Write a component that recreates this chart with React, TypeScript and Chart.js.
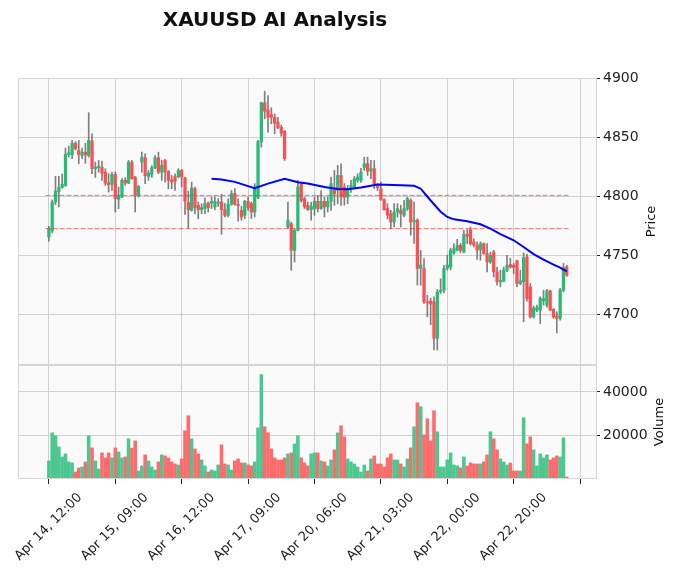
import React, { useEffect, useRef } from 'react';
import { Chart, registerables } from 'chart.js';

Chart.register(...registerables);

const chartTitle = 'XAUUSD AI Analysis';

const opens = [
  4765.5, 4770.6, 4795.2, 4804.0, 4807.5, 4809.3, 4835.5, 4835.3, 4845.2, 4839.0,
  4834.7, 4837.5, 4834.7, 4846.9, 4823.5, 4824.3, 4824.8, 4820.6, 4811.5, 4810.2,
  4818.6, 4797.5, 4799.4, 4813.6, 4811.3, 4829.1, 4816.4, 4800.8, 4829.1, 4832.8,
  4817.0, 4818.6, 4824.0, 4832.8, 4820.6, 4830.5, 4821.0, 4814.0, 4816.9, 4816.5,
  4822.0, 4815.8, 4794.7, 4788.1, 4806.5, 4792.4, 4788.7, 4789.6, 4794.3, 4794.3,
  4791.0, 4794.0, 4795.2, 4788.7, 4783.9, 4793.2, 4802.3, 4793.2, 4788.1, 4783.9,
  4795.8, 4793.8, 4786.7, 4799.0, 4846.6, 4879.4, 4873.5, 4869.5, 4867.2, 4863.0,
  4858.7, 4855.1, 4774.0, 4776.9, 4754.2, 4771.2, 4810.8, 4798.0, 4792.4, 4788.7,
  4789.6, 4795.8, 4789.6, 4795.8, 4791.0, 4795.8, 4806.5, 4805.0, 4817.8, 4807.9,
  4799.4, 4806.5, 4807.9, 4813.6, 4813.6, 4824.6, 4827.7, 4821.4, 4823.5, 4808.5,
  4806.5, 4797.2, 4789.6, 4785.3, 4778.2, 4786.7, 4788.1, 4783.9, 4789.6, 4796.6,
  4778.2, 4779.7, 4738.9, 4738.7, 4710.4, 4711.0, 4710.4, 4679.4, 4719.0, 4720.3,
  4738.9, 4740.0, 4752.0, 4754.2, 4758.5, 4752.8, 4767.8, 4771.8, 4761.3, 4758.5,
  4755.0, 4759.9, 4751.4, 4744.3, 4752.8, 4735.9, 4727.4, 4728.0, 4737.3, 4742.1,
  4741.5, 4745.2, 4726.0, 4727.4, 4748.5, 4723.2, 4697.7, 4703.4, 4703.4, 4711.3,
  4707.6, 4719.8, 4704.0, 4698.3, 4696.4, 4720.3, 4740.0,
];

const highs = [
  4774.5, 4797.0, 4817.0, 4817.0, 4819.0, 4841.0, 4842.6, 4847.5, 4846.5, 4847.5,
  4841.0, 4845.0, 4871.0, 4853.1, 4829.0, 4830.5, 4830.0, 4823.5, 4819.2, 4820.6,
  4820.6, 4807.9, 4815.0, 4815.8, 4830.5, 4830.5, 4816.9, 4809.3, 4837.5, 4836.2,
  4822.0, 4826.0, 4834.7, 4837.5, 4830.5, 4831.5, 4822.0, 4817.8, 4819.2, 4823.5,
  4823.0, 4816.4, 4804.5, 4812.1, 4807.9, 4795.2, 4793.8, 4798.6, 4795.2, 4799.4,
  4799.5, 4798.0, 4801.7, 4793.8, 4798.0, 4805.0, 4806.5, 4798.0, 4791.5, 4796.6,
  4799.4, 4795.2, 4810.8, 4847.5, 4880.0, 4889.2, 4885.6, 4875.2, 4870.0, 4867.2,
  4860.5, 4856.0, 4795.2, 4778.2, 4772.6, 4813.6, 4812.1, 4799.4, 4795.2, 4795.2,
  4799.4, 4800.8, 4805.0, 4799.4, 4799.4, 4816.4, 4822.0, 4826.3, 4827.7, 4810.8,
  4809.3, 4813.6, 4816.9, 4819.2, 4823.7, 4833.3, 4833.3, 4830.5, 4830.5, 4810.8,
  4812.1, 4798.0, 4793.8, 4788.1, 4793.8, 4793.8, 4792.4, 4796.6, 4799.4, 4798.0,
  4795.2, 4781.0, 4754.0, 4747.2, 4716.0, 4713.6, 4714.7, 4721.0, 4730.0, 4741.5,
  4750.0, 4756.0, 4760.0, 4763.5, 4760.0, 4771.2, 4771.8, 4774.0, 4764.0, 4761.3,
  4761.3, 4760.5, 4760.0, 4752.8, 4754.2, 4740.0, 4737.3, 4740.0, 4750.0, 4747.5,
  4743.0, 4745.8, 4737.3, 4752.0, 4751.0, 4726.0, 4706.8, 4707.6, 4714.7, 4720.3,
  4721.0, 4720.3, 4704.8, 4702.0, 4721.8, 4743.0, 4741.5,
];

const lows = [
  4762.0, 4769.0, 4793.0, 4791.0, 4807.0, 4808.5, 4833.3, 4832.0, 4839.5, 4827.7,
  4832.0, 4828.0, 4833.3, 4819.2, 4816.0, 4820.6, 4813.6, 4809.3, 4803.6, 4805.0,
  4786.7, 4789.6, 4798.9, 4809.3, 4810.8, 4814.4, 4786.7, 4799.4, 4820.6, 4810.8,
  4813.6, 4816.0, 4823.5, 4819.2, 4813.6, 4812.1, 4806.5, 4806.5, 4805.0, 4815.8,
  4807.9, 4784.7, 4772.9, 4787.5, 4785.3, 4781.0, 4785.3, 4785.3, 4786.7, 4789.6,
  4788.5, 4791.5, 4767.8, 4782.5, 4782.5, 4792.4, 4792.4, 4779.0, 4779.7, 4781.0,
  4788.1, 4781.0, 4782.5, 4798.0, 4841.8, 4865.8, 4854.5, 4861.6, 4853.1, 4857.4,
  4851.0, 4830.5, 4772.6, 4737.3, 4744.3, 4770.6, 4795.2, 4789.6, 4788.1, 4779.7,
  4783.9, 4786.7, 4789.0, 4782.5, 4786.7, 4788.1, 4792.4, 4793.8, 4792.4, 4792.4,
  4793.8, 4803.4, 4807.4, 4811.9, 4811.9, 4822.0, 4817.8, 4815.0, 4806.5, 4805.0,
  4796.6, 4788.1, 4781.0, 4772.6, 4774.0, 4782.5, 4774.0, 4782.5, 4788.0, 4767.0,
  4760.0, 4724.6, 4724.6, 4709.0, 4697.7, 4691.0, 4669.5, 4669.5, 4717.5, 4718.0,
  4737.5, 4737.5, 4750.8, 4753.5, 4752.0, 4752.0, 4760.0, 4758.5, 4757.0, 4746.4,
  4745.8, 4750.8, 4735.9, 4743.0, 4731.6, 4724.6, 4723.2, 4727.4, 4736.0, 4739.0,
  4734.5, 4723.2, 4725.0, 4693.5, 4711.0, 4696.6, 4696.6, 4702.0, 4692.0, 4707.6,
  4706.0, 4702.8, 4696.4, 4684.0, 4694.9, 4719.0, 4732.0,
];

const closes = [
  4772.6, 4795.2, 4804.5, 4807.5, 4810.2, 4835.6, 4837.0, 4845.0, 4840.4, 4835.6,
  4837.5, 4835.0, 4847.5, 4823.5, 4824.8, 4825.4, 4819.7, 4811.3, 4810.0, 4818.6,
  4798.0, 4800.3, 4813.6, 4811.3, 4829.1, 4815.0, 4800.8, 4808.5, 4833.3, 4817.5,
  4819.7, 4824.3, 4832.8, 4820.6, 4826.3, 4820.6, 4813.6, 4812.1, 4813.0, 4822.0,
  4816.5, 4796.0, 4788.7, 4807.1, 4790.4, 4788.7, 4790.4, 4793.8, 4790.4, 4795.8,
  4795.8, 4795.2, 4788.7, 4783.9, 4793.2, 4802.3, 4793.2, 4792.1, 4782.5, 4795.8,
  4790.4, 4786.7, 4806.5, 4846.6, 4879.4, 4872.3, 4867.2, 4867.2, 4862.1, 4858.2,
  4853.6, 4832.0, 4779.7, 4754.2, 4771.2, 4807.9, 4796.6, 4791.0, 4788.7, 4791.5,
  4795.8, 4789.6, 4795.8, 4791.0, 4795.8, 4810.8, 4802.3, 4817.8, 4799.4, 4799.4,
  4806.5, 4809.3, 4815.0, 4816.4, 4820.6, 4827.7, 4821.4, 4823.5, 4810.8, 4807.4,
  4797.2, 4788.7, 4783.9, 4778.2, 4786.7, 4789.6, 4785.3, 4789.6, 4798.0, 4778.2,
  4779.7, 4738.7, 4741.7, 4710.4, 4709.6, 4708.5, 4679.4, 4718.9, 4720.3, 4738.7,
  4741.7, 4754.2, 4755.6, 4758.5, 4754.2, 4767.8, 4766.1, 4760.0, 4758.5, 4754.2,
  4759.9, 4751.4, 4744.3, 4750.0, 4735.9, 4727.4, 4728.8, 4737.3, 4741.5, 4740.0,
  4739.6, 4726.0, 4728.2, 4748.0, 4713.0, 4697.7, 4705.1, 4705.7, 4713.3, 4713.3,
  4719.8, 4703.4, 4697.7, 4696.4, 4720.3, 4739.6, 4733.0,
];

const volumes = [
  8305, 21224, 19840, 14765, 10151, 11535, 7844, 7382, 3230, 5075,
  5537, 7844, 19840, 14303, 8305, 4614, 11996, 9689, 11996, 9689,
  14303, 12458, 9689, 10151, 18456, 14150, 17533, 3691, 5998, 11074,
  8305, 5537, 4153, 7844, 11074, 10612, 9689, 7844, 6921, 6460,
  9228, 22147, 29068, 18456, 13842, 11535, 8767, 5998, 3230, 4153,
  3691, 6460, 15688, 6921, 6460, 4153, 8305, 9228, 7382, 7382,
  6460, 5998, 7844, 23531, 47986, 23993, 21224, 13842, 9689, 8767,
  8767, 9689, 11535, 11996, 16149, 19840, 9700, 7380, 6000, 11540,
  12000, 12000, 8300, 7840, 6000, 8770, 13380, 21220, 24450, 19380,
  9230, 7840, 6920, 5540, 3230, 6460, 3690, 9230, 10610, 6920,
  6920, 5540, 9690, 11540, 8770, 8770, 6920, 5540, 9230, 14300,
  24000, 35070, 33220, 20300, 27680, 17530, 31380, 21690, 5540, 5540,
  8770, 12000, 6460, 6000, 5080, 10150, 6000, 7380, 6920, 6920,
  6920, 7840, 11070, 21690, 18460, 13380, 9230, 7840, 6460, 7380,
  3690, 3690, 3690, 28150, 16150, 19380, 13380, 6000, 11540, 9690,
  11070, 8770, 9690, 10610, 10150, 18920, 920,
];

// moving-average line at these candle indices
const maIdx = [49, 52, 56, 60, 62, 66, 71, 75, 78, 83, 87, 90, 94, 99, 106, 110, 112, 115, 118, 120, 122, 126, 130, 133, 136, 140, 143, 146, 149, 152, 154, 156];
const maVal = [4815, 4814.3, 4812.3, 4808.7, 4807, 4810.8, 4815, 4812, 4811, 4808, 4806.2, 4806, 4807.5, 4810, 4809.5, 4809, 4806.5, 4796.5, 4787, 4782.5, 4780.5, 4778.8, 4776.3, 4772.6, 4768, 4762.7, 4757, 4751, 4746.3, 4742, 4739.5, 4736.4];

const levels = [4800.8, 4772.6];

const xTickIdx = [0, 20, 40, 60, 80, 100, 120, 140, 160];
const xTickLabels = ['Apr 14, 12:00', 'Apr 15, 09:00', 'Apr 16, 12:00', 'Apr 17, 09:00', 'Apr 20, 06:00', 'Apr 21, 03:00', 'Apr 22, 00:00', 'Apr 22, 20:00', ''];
const priceTicks = [4700, 4750, 4800, 4850, 4900];
const volumeTicks = [20000, 40000];

const UP = '#26bb77';
const DOWN = '#fd4e50';
const VUP = '#4dc790';
const VDOWN = '#fd6b6c';
const WICK = 'rgba(96,96,96,0.8)';
const FONT = '"DejaVu Sans", sans-serif';

const decor = {
  id: 'decor',
  beforeDraw(chart: any) {
    const { ctx, chartArea: a } = chart;
    ctx.save();
    ctx.fillStyle = '#ffffff';
    ctx.fillRect(0, 0, chart.width, chart.height);
    ctx.fillStyle = '#fafafa';
    ctx.fillRect(a.left, a.top, a.right - a.left, a.bottom - a.top);
    ctx.restore();
  },
  afterDraw(chart: any) {
    const { ctx, chartArea: a, scales } = chart;
    ctx.save();
    ctx.strokeStyle = '#d6d6d6';
    ctx.lineWidth = 1;
    for (const id of ['y', 'yv']) {
      const s = scales[id];
      ctx.strokeRect(Math.round(a.left) - 0.5, Math.round(s.top) + 0.5, Math.round(a.right - a.left) + 1, Math.round(s.bottom - s.top) - 1);
    }
    ctx.fillStyle = '#101010';
    ctx.font = `bold 20px ${FONT}`;
    ctx.textAlign = 'center';
    ctx.textBaseline = 'alphabetic';
    ctx.fillText(chartTitle, 275, 26);
    ctx.font = `13px ${FONT}`;
    ctx.textBaseline = 'middle';
    const rot = (t: string, x: number, y: number) => {
      ctx.save();
      ctx.translate(x, y);
      ctx.rotate(-Math.PI / 2);
      ctx.fillText(t, 0, 0);
      ctx.restore();
    };
    rot('Price', 652, (scales.y.top + scales.y.bottom) / 2);
    rot('Volume', 660, (scales.yv.top + scales.yv.bottom) / 2);
    ctx.restore();
  },
};

export default function App() {
  const ref = useRef<HTMLCanvasElement>(null);
  useEffect(() => {
    const n = closes.length;
    const up = closes.map((c, i) => c >= opens[i]);
    const chart = new Chart(ref.current as HTMLCanvasElement, {
      type: 'bar',
      data: {
        datasets: [
          {
            type: 'line',
            data: maIdx.map((x, k) => ({ x, y: maVal[k] })),
            borderColor: '#0000ff',
            borderWidth: 2,
            pointRadius: 0,
            tension: 0,
            yAxisID: 'y',
            order: 0,
          } as any,
          ...levels.map((l) => ({
            type: 'line',
            data: [{ x: -1, y: l }, { x: n, y: l }],
            borderColor: 'rgba(240,60,60,0.7)',
            borderWidth: 1,
            borderDash: [5, 2],
            pointRadius: 0,
            yAxisID: 'y',
            order: 1,
          } as any)),
          {
            type: 'bar',
            data: closes.map((c, i) => ({ x: i, y: [opens[i], c] })),
            backgroundColor: up.map((u) => (u ? UP : DOWN)),
            barThickness: 2.6,
            grouped: false,
            yAxisID: 'y',
            order: 2,
          } as any,
          {
            type: 'bar',
            data: closes.map((_, i) => ({ x: i, y: [lows[i], highs[i]] })),
            backgroundColor: WICK,
            barThickness: 1,
            grouped: false,
            yAxisID: 'y',
            order: 3,
          } as any,
          {
            type: 'bar',
            data: volumes.map((v, i) => ({ x: i, y: v })),
            backgroundColor: up.map((u) => (u ? VUP : VDOWN)),
            barThickness: 2.9,
            grouped: false,
            yAxisID: 'yv',
            order: 4,
          } as any,
        ],
      },
      options: {
        animation: false,
        responsive: false,
        devicePixelRatio: 1,
        events: [],
        layout: { padding: { left: 19, top: 78, right: 0, bottom: 0 } },
        plugins: { legend: { display: false }, tooltip: { enabled: false }, title: { display: false } },
        scales: {
          x: {
            type: 'linear',
            min: -9,
            max: 164.8,
            offset: false,
            afterBuildTicks: (s: any) => {
              s.ticks = xTickIdx.map((v) => ({ value: v }));
            },
            afterFit: (s: any) => {
              s.height = 97;
              s.paddingLeft = 0;
              s.paddingRight = 0;
            },
            grid: { color: '#d0d0d0', lineWidth: 1, offset: false, drawTicks: true, tickLength: 5, tickColor: '#222222' },
            border: { display: false },
            ticks: {
              autoSkip: false,
              minRotation: 45,
              maxRotation: 45,
              padding: 6,
              labelOffset: 31,
              color: '#222222',
              font: { family: FONT, size: 13 },
              callback: (_v: any, i: number) => xTickLabels[i] ?? '',
            },
          },
          y: {
            type: 'linear',
            position: 'right',
            stack: 'panels',
            stackWeight: 287,
            min: 4656.8,
            max: 4900.5,
            afterBuildTicks: (s: any) => {
              s.ticks = priceTicks.map((v) => ({ value: v }));
            },
            afterFit: (s: any) => {
              s.width = 81;
              s.paddingTop = 0;
              s.paddingBottom = 0;
            },
            grid: { color: '#d0d0d0', lineWidth: 1, drawTicks: true, tickLength: 4, tickColor: '#222222' },
            border: { display: false },
            ticks: { padding: 3, color: '#222222', font: { family: FONT, size: 14 }, callback: (v: any) => String(v) },
          },
          yv: {
            type: 'linear',
            position: 'right',
            stack: 'panels',
            stackWeight: 114,
            min: 0,
            max: 52400,
            afterBuildTicks: (s: any) => {
              s.ticks = volumeTicks.map((v) => ({ value: v }));
            },
            afterFit: (s: any) => {
              s.width = 81;
              s.paddingTop = 0;
              s.paddingBottom = 0;
            },
            grid: { color: '#d0d0d0', lineWidth: 1, drawTicks: true, tickLength: 4, tickColor: '#222222' },
            border: { display: false },
            ticks: { padding: 3, color: '#222222', font: { family: FONT, size: 14 }, callback: (v: any) => String(v) },
          },
        },
      } as any,
      plugins: [decor],
    });
    return () => chart.destroy();
  }, []);
  return (
    <div style={{ position: 'absolute', left: 0, top: 0, width: 677, height: 576, background: '#ffffff' }}>
      <canvas ref={ref} width={677} height={576} style={{ display: 'block' }} />
    </div>
  );
}
